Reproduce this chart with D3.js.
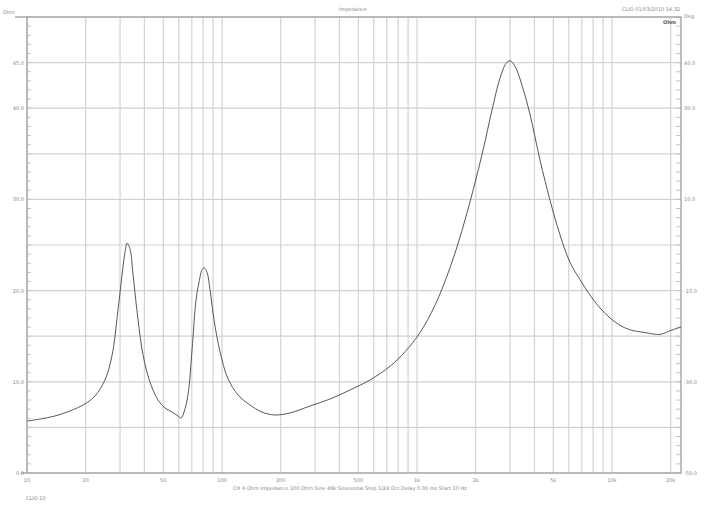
<!DOCTYPE html>
<html>
<head>
<meta charset="utf-8">
<script src="https://cdn.jsdelivr.net/npm/d3@7"></script>
<style>
  body { margin: 0; background: #fff; }
  text { font-family: "DejaVu Sans", sans-serif; fill: #888; }
</style>
</head>
<body>
<script>
// impedance curve (Hz, Ohm)
var freqs = [10, 11.7, 13.9, 16.6, 19.8, 22.3, 25.1, 27.3, 29.3, 30.7, 31.8, 32.6, 33.8, 35.0, 37.1, 39.4,
  42.7, 47.0, 51.0, 55.4, 59.5, 61.6, 63.9, 66.9, 70.2, 73.6, 76.2, 79.0, 80.9, 83.8, 86.8, 91.0,
  97.7, 107, 121, 139, 160, 187, 223, 283, 358, 453, 574, 727, 868, 1036, 1237, 1476,
  1702, 1938, 2181, 2424, 2665, 2860, 3000, 3181, 3455, 3798, 4274, 4810, 5412, 6090, 6853, 7712,
  8678, 9766, 10990, 12370, 14760, 17630, 19830, 22580];
var ohms = [5.70, 5.92, 6.25, 6.80, 7.57, 8.44, 10.2, 12.9, 17.9, 21.7, 24.2, 25.2, 24.5, 21.7, 16.8, 12.9,
  9.98, 8.00, 7.13, 6.69, 6.25, 6.03, 6.69, 8.55, 13.5, 19.0, 20.9, 22.3, 22.5, 22.0, 20.1, 16.8,
  13.3, 10.4, 8.55, 7.46, 6.69, 6.36, 6.58, 7.35, 8.11, 9.10, 10.2, 11.7, 13.3, 15.4, 18.4, 22.5,
  26.6, 31.0, 35.4, 39.8, 43.3, 44.9, 45.2, 44.6, 42.5, 39.3, 34.3, 29.9, 26.1, 23.1, 21.2, 19.5,
  18.1, 17.0, 16.2, 15.7, 15.4, 15.2, 15.6, 16.0];

var freqTicks = [10, 20, 50, 100, 200, 500, 1000, 2000, 5000, 10000, 20000];
var freqLabels = ['10', '20', '50', '100', '200', '500', '1k', '2k', '5k', '10k', '20k'];
var ohmTicks = [0, 10, 20, 30, 40, 45];
var degTicks = [-50, -30, -10, 10, 30, 40];

var width = 707, height = 510;
var margin = {top: 17, right: 26, bottom: 37, left: 27};
var w = width - margin.left - margin.right,
    h = height - margin.top - margin.bottom;

var x = d3.scaleLog().domain([10, 22580]).range([0, w]);
var y = d3.scaleLinear().domain([0, 50]).range([h, 0]);
var yR = d3.scaleLinear().domain([-50, 50]).range([h, 0]);

var svg = d3.select('body').append('svg')
    .attr('width', width)
    .attr('height', height);
var g = svg.append('g')
    .attr('transform', 'translate(' + margin.left + ',' + margin.top + ')');

//grid
var vgrid = [];
[10, 100, 1000, 10000].forEach(function(dec) {
  for (var k = 1; k < 10; k++) { if (dec * k <= 22580) vgrid.push(dec * k); }
});
g.selectAll('.vg').data(vgrid).enter().append('line')
    .attr('x1', function(d) { return x(d); }).attr('x2', function(d) { return x(d); })
    .attr('y1', 0).attr('y2', h)
    .attr('stroke', '#d2d2d2').attr('stroke-width', 1.2);
g.selectAll('.hg').data(d3.range(0, 51, 5)).enter().append('line')
    .attr('x1', 0).attr('x2', w)
    .attr('y1', function(d) { return y(d); }).attr('y2', function(d) { return y(d); })
    .attr('stroke', '#d2d2d2').attr('stroke-width', 1.2);

//minor ticks on both sides
g.selectAll('.lt').data(d3.range(0, 50.1, 1)).enter().append('line')
    .attr('x1', 0).attr('x2', 4)
    .attr('y1', function(d) { return y(d); }).attr('y2', function(d) { return y(d); })
    .attr('stroke', '#c4c4c4');
g.selectAll('.rt').data(d3.range(0, 50.1, 1)).enter().append('line')
    .attr('x1', w - 5).attr('x2', w)
    .attr('y1', function(d) { return y(d); }).attr('y2', function(d) { return y(d); })
    .attr('stroke', '#c4c4c4');

//frame
g.append('rect').attr('width', w).attr('height', h)
    .attr('fill', 'none').attr('stroke', '#aaa').attr('stroke-width', 1.5);
g.append('line').attr('x1', -12).attr('x2', 0).attr('y1', 0).attr('y2', 0)
    .attr('stroke', '#aaa').attr('stroke-width', 1.5);
g.append('line').attr('x1', -6).attr('x2', 0).attr('y1', h).attr('y2', h)
    .attr('stroke', '#aaa').attr('stroke-width', 1.5);

//curve
var line = d3.line()
    .x(function(d, i) { return x(freqs[i]); })
    .y(function(d) { return y(d); })
    .curve(d3.curveCatmullRom);
g.append('path').datum(ohms)
    .attr('d', line)
    .attr('fill', 'none')
    .attr('stroke', '#444')
    .attr('stroke-width', 0.9);

//labels
g.selectAll('.xl').data(freqTicks).enter().append('text')
    .attr('x', function(d) { return x(d); })
    .attr('y', h + 9)
    .attr('text-anchor', 'middle')
    .attr('font-size', 5)
    .text(function(d, i) { return freqLabels[i]; });
g.selectAll('.yl').data(ohmTicks).enter().append('text')
    .attr('x', -3).attr('y', function(d) { return y(d) + 2; })
    .attr('text-anchor', 'end').attr('font-size', 5)
    .text(function(d) { return d.toFixed(1); });
g.selectAll('.yr').data(degTicks).enter().append('text')
    .attr('x', w + 3).attr('y', function(d) { return yR(d) + 2; })
    .attr('font-size', 5)
    .text(function(d) { return d.toFixed(1); });

svg.append('text').attr('x', 353).attr('y', 11).attr('text-anchor', 'middle')
    .attr('font-size', 5).text('Impedance');
svg.append('text').attr('x', 680).attr('y', 11).attr('text-anchor', 'end')
    .attr('font-size', 5).text('CLIO 01/03/2010 14.32');
svg.append('text').attr('x', 676).attr('y', 24).attr('text-anchor', 'end')
    .attr('font-size', 5).attr('font-weight', 'bold').style('fill', '#555').text('Ohm');
svg.append('text').attr('x', 684).attr('y', 18)
    .attr('font-size', 5).text('Deg');
svg.append('text').attr('x', 3).attr('y', 14)
    .attr('font-size', 5).text('Ohm');
svg.append('text').attr('x', 350).attr('y', 490).attr('text-anchor', 'middle')
    .attr('font-size', 5)
    .text('CH A   Ohm   Impedance   100 Ohm   Sine 48k Sinusoidal   Step 1/24 Oct   Delay 0.00 ms   Start 10 Hz');
svg.append('text').attr('x', 26).attr('y', 500)
    .attr('font-size', 5).text('CLIO 10');
</script>
</body>
</html>
